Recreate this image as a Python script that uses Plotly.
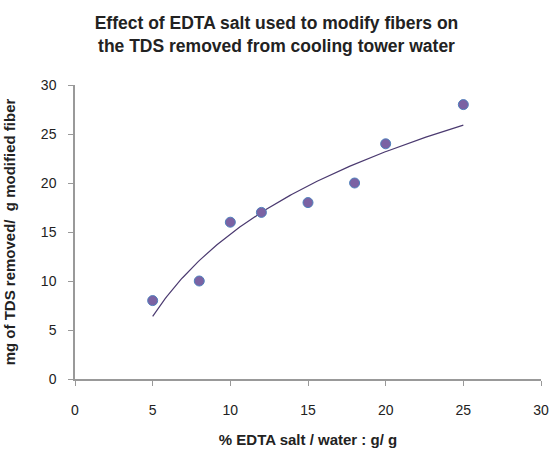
import numpy as np
import plotly.graph_objects as go

edta_pct = [5, 8, 10, 12, 15, 18, 20, 25]
tds_removed = [8, 10, 16, 17, 18, 20, 24, 28]
x_ticks = [0, 5, 10, 15, 20, 25, 30]
y_ticks = [0, 5, 10, 15, 20, 25, 30]

# logarithmic trendline fitted to the data (as in the spreadsheet chart)
a, b = np.polyfit(np.log(edta_pct), tds_removed, 1)
xt = np.linspace(min(edta_pct), max(edta_pct), 200)
yt = a * np.log(xt) + b

fig = go.Figure()
fig.add_trace(go.Scatter(x=xt, y=yt, mode="lines",
                         line=dict(color="#4B3A70", width=1.2),
                         hoverinfo="skip", showlegend=False))
fig.add_trace(go.Scatter(x=edta_pct, y=tds_removed, mode="markers",
                         marker=dict(size=10, color="#7B62A3",
                                     line=dict(color="#4F81BD", width=1)),
                         showlegend=False))

font = "Liberation Sans, Arial, sans-serif"
axis_common = dict(showgrid=False, zeroline=False, showline=True,
                   linecolor="#999999", linewidth=1.5, ticks="outside",
                   ticklen=5, tickcolor="#999999", automargin=False,
                   tickfont=dict(family=font, size=14, color="#222222"))

fig.update_layout(
    width=553, height=452,
    paper_bgcolor="white", plot_bgcolor="white",
    margin=dict(l=75, r=11.5, t=85, b=72.5),
    title=dict(text="<b>Effect of EDTA salt used to modify fibers on<br>the TDS removed from cooling tower water</b>",
               x=0.5, xanchor="center", y=0.936, yanchor="top",
               font=dict(family=font, size=17.5, color="#222222")),
    xaxis=dict(range=[0, 30], tickvals=x_ticks, ticklabelstandoff=12, **axis_common,
               title=dict(text="<b>% EDTA salt / water : g/ g</b>", standoff=18,
                          font=dict(family=font, size=15, color="#222222"))),
    yaxis=dict(range=[0, 30], tickvals=y_ticks, ticklabelstandoff=9, **axis_common,
               title=dict(text="<b>mg of TDS removed/  g modified fiber</b>", standoff=22,
                          font=dict(family=font, size=15, color="#222222"))),
)
fig.write_html("out.html", config={"displayModeBar": False},
               post_script="document.body.style.margin='0';document.body.style.overflow='hidden';")
